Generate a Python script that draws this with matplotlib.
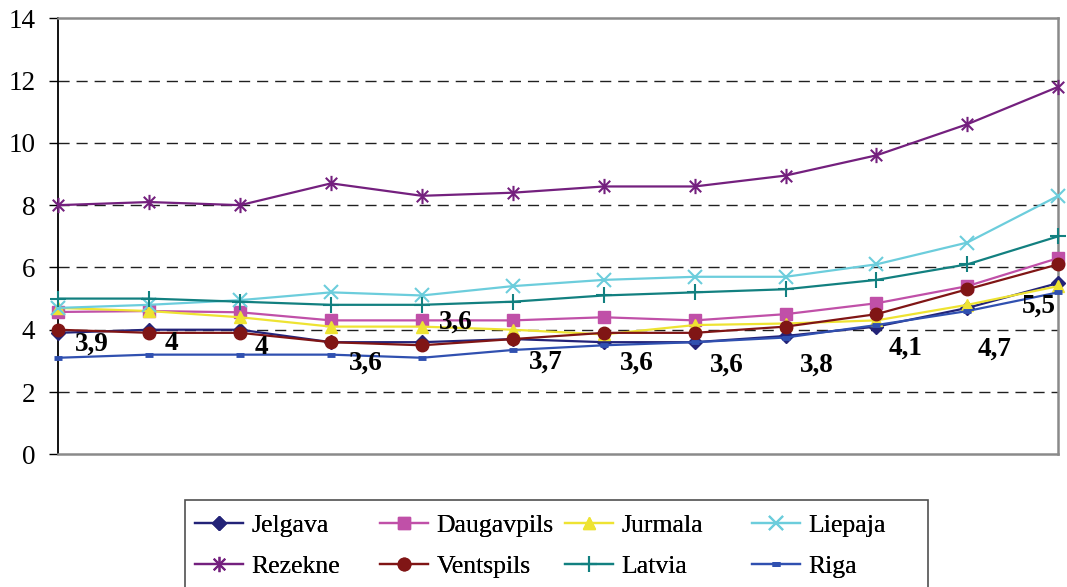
import matplotlib
matplotlib.use("Agg")
import matplotlib.pyplot as plt
import matplotlib.patches as mpatches
from matplotlib.path import Path

# ---------------- data ----------------
periods = list(range(12))
jelgava    = [3.9, 4.0, 4.0, 3.6, 3.6, 3.7, 3.6, 3.6, 3.8, 4.1, 4.7, 5.5]
daugavpils = [4.57, 4.6, 4.56, 4.3, 4.3, 4.3, 4.4, 4.3, 4.5, 4.85, 5.4, 6.3]
jurmala    = [4.7, 4.6, 4.4, 4.1, 4.1, 4.0, 3.85, 4.15, 4.2, 4.3, 4.8, 5.4]
liepaja    = [4.7, 4.8, 4.95, 5.2, 5.1, 5.4, 5.6, 5.7, 5.7, 6.1, 6.8, 8.3]
rezekne    = [8.0, 8.1, 8.0, 8.7, 8.3, 8.4, 8.6, 8.6, 8.95, 9.6, 10.6, 11.8]
ventspils  = [4.0, 3.9, 3.9, 3.6, 3.5, 3.7, 3.9, 3.9, 4.1, 4.5, 5.3, 6.1]
latvia     = [5.0, 5.0, 4.9, 4.8, 4.8, 4.9, 5.1, 5.2, 5.3, 5.6, 6.1, 7.0]
riga       = [3.1, 3.2, 3.2, 3.2, 3.1, 3.35, 3.5, 3.6, 3.75, 4.15, 4.6, 5.2]

label_texts = ["3,9", "4", "4", "3,6", "3,6", "3,7", "3,6", "3,6", "3,8", "4,1", "4,7", "5,5"]
y_ticks = [0, 2, 4, 6, 8, 10, 12, 14]

# label offsets in pixels (dx right, dy up) -- layout only
label_offsets = [(34, -11), (22, -14), (21, -18), (35, -21), (34, 20), (33, -23),
                 (33, -21), (32, -23), (31, -29), (29, -22), (27, -41), (-19, -23)]

# ---------------- style ----------------
W, H = 1067, 587
fig = plt.figure(figsize=(W / 100, H / 100), dpi=100)
fig.patch.set_facecolor("white")
ax = fig.add_axes([58.3 / W, 1 - 454.3 / H, (1058.3 - 58.3) / W, (454.3 - 18.3) / H])

serif = ["Liberation Serif", "DejaVu Serif"]
FS = 19.5
LFS = 18.5

star = Path([(0, -1), (0, 1), (-0.75, -0.75), (0.75, 0.75), (-0.75, 0.75), (0.75, -0.75)],
            [Path.MOVETO, Path.LINETO, Path.MOVETO, Path.LINETO, Path.MOVETO, Path.LINETO])

series = [
    ("Jelgava", jelgava, "#232378", dict(marker="D", ms=7, mfc="#232378", mec="#232378")),
    ("Daugavpils", daugavpils, "#C050A8", dict(marker="s", ms=8, mfc="#C050A8", mec="#C050A8")),
    ("Jurmala", jurmala, "#EEE332", dict(marker="^", ms=9, mfc="#EEE332", mec="#EEE332")),
    ("Liepaja", liepaja, "#6CCDDC", dict(marker="x", ms=10, mew=1.5, mec="#6CCDDC")),
    ("Rezekne", rezekne, "#74207E", dict(marker=star, ms=11, mew=1.5, mec="#74207E", mfc="none")),
    ("Ventspils", ventspils, "#801515", dict(marker="o", ms=9, mfc="#801515", mec="#801515")),
    ("Latvia", latvia, "#128080", dict(marker="+", ms=12, mew=1.5, mec="#128080")),
    ("Riga", riga, "#3050B0", dict(marker="_", ms=6, mew=3.5, mec="#3050B0")),
]

handles = []
for name, vals, col, mk in series:
    h, = ax.plot(periods, vals, color=col, lw=1.6, label=name, clip_on=False, zorder=3, **mk)
    handles.append(h)

# data labels (Jelgava values)
for x, v, t, (dx, dy) in zip(periods, jelgava, label_texts, label_offsets):
    ax.annotate(t, (x, v), xytext=(dx, dy), textcoords="offset pixels",
                ha="center", va="center", fontsize=FS, fontweight="bold",
                family=serif, color="black", zorder=5)

ax.set_xlim(0, 11)
ax.set_ylim(0, 14)
ax.set_yticks(y_ticks)
ax.set_yticklabels([str(t) for t in y_ticks], family=serif, fontsize=FS)
ax.set_xticks([])
ax.tick_params(axis="y", direction="out", length=6.5, width=1.0, pad=10, color="black")

for y in y_ticks[1:-1]:
    ax.axhline(y, color="#202020", lw=1.0, ls=(0, (8, 5)), zorder=1)

ax.spines["left"].set_color("black")
ax.spines["left"].set_linewidth(1.3)
for s in ["top", "right", "bottom"]:
    ax.spines[s].set_color("#8a8a8a")
    ax.spines[s].set_linewidth(1.8)

# legend: fixed-width columns like the original
col_x = [195, 380, 565, 752]
columns = [[0, 4], [1, 5], [2, 6], [3, 7]]
for cx, idxs in zip(col_x, columns):
    leg = fig.legend([handles[i] for i in idxs], [series[i][0] for i in idxs],
                     loc="upper left", bbox_to_anchor=(cx / W, 1 - 514 / H),
                     frameon=False, borderpad=0, borderaxespad=0,
                     handlelength=1.85, handletextpad=0.35, labelspacing=0.72,
                     prop={"family": serif, "size": LFS})
    fig.add_artist(leg)

frame = mpatches.Rectangle((185 / W, -0.1), (928 - 185) / W, 0.1 + 1 - 500 / H,
                           transform=fig.transFigure, fill=False,
                           edgecolor="#505050", lw=1.2)
fig.add_artist(frame)

fig.savefig("out.png", dpi=100)
